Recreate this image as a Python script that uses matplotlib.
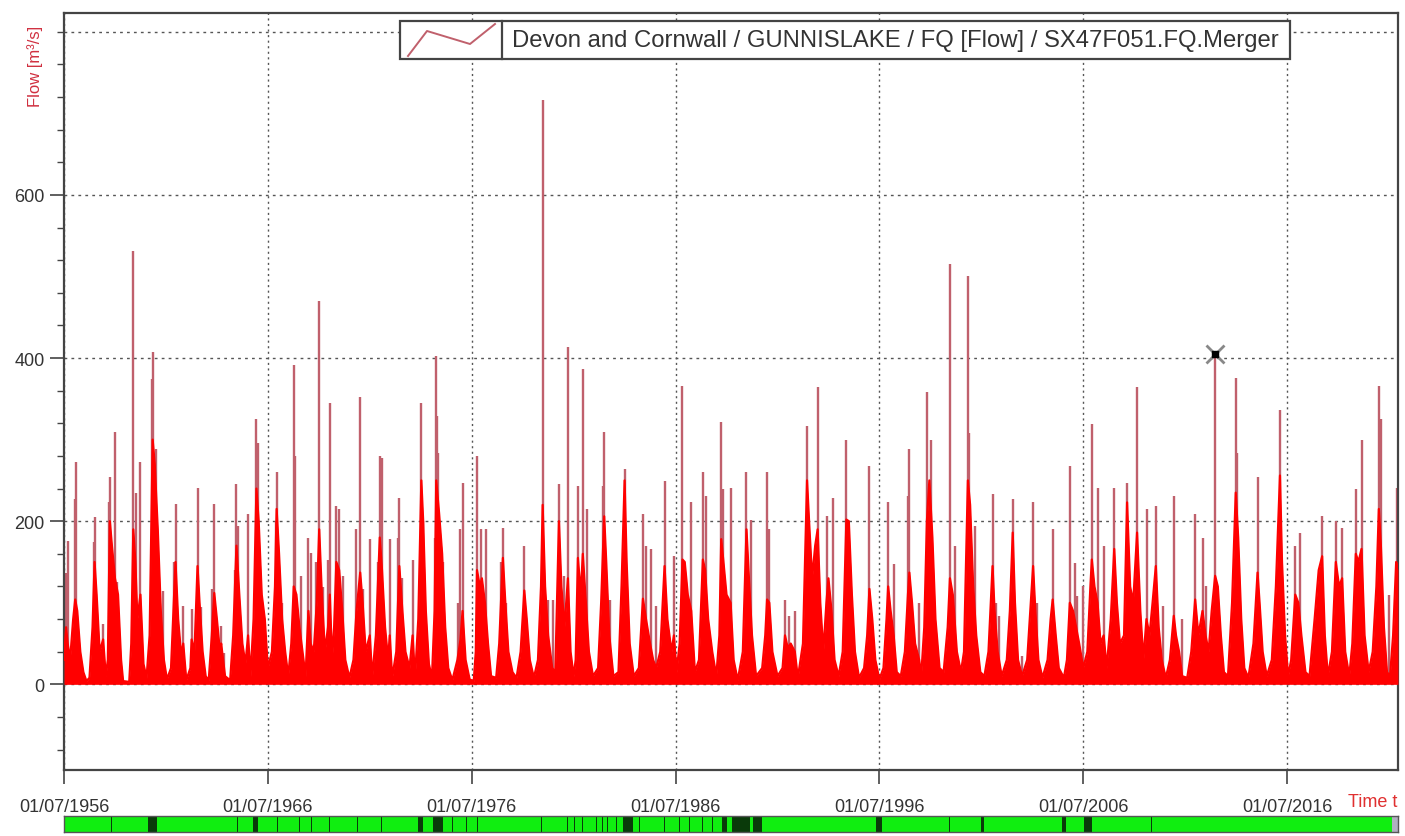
import matplotlib
matplotlib.use("Agg")
import matplotlib.pyplot as plt
from matplotlib.patches import Rectangle
from matplotlib.lines import Line2D

plt.rcParams['font.family'] = ['Liberation Sans', 'DejaVu Sans']

# --- data (decimal years, m3/s) ---
# tall thin peaks
spike_t = [1956.60, 1956.68, 1957.02, 1957.08, 1957.97, 1958.02, 1958.42, 1958.72, 1958.75, 1958.98,
           1959.12, 1959.88, 1960.03, 1960.25, 1960.80, 1960.88, 1961.00, 1961.35, 1961.90, 1961.97,
           1962.33, 1962.76, 1963.05, 1963.24, 1963.75, 1963.87, 1964.21, 1964.33, 1964.90, 1964.96,
           1965.05, 1965.53, 1965.94, 1966.02, 1966.88, 1966.93, 1967.20, 1967.77, 1967.85, 1968.15,
           1968.49, 1968.62, 1968.85, 1969.02, 1969.20, 1969.45, 1969.54, 1969.86, 1970.00, 1970.20,
           1970.84, 1971.03, 1971.15, 1971.50, 1971.88, 1971.99, 1972.10, 1972.48, 1972.90, 1972.95,
           1973.10, 1973.60, 1974.03, 1974.12, 1974.70, 1974.76, 1974.82, 1974.87, 1975.10, 1975.82,
           1975.95, 1976.05, 1976.76, 1976.97, 1977.20, 1977.95, 1978.03, 1978.20, 1979.08, 1979.98,
           1980.25, 1980.50, 1980.78, 1981.05, 1981.22, 1981.71, 1981.95, 1982.15, 1982.92, 1983.00,
           1983.30, 1984.00, 1984.90, 1985.05, 1985.30, 1985.55, 1985.96, 1986.42, 1986.84, 1987.27,
           1987.84, 1988.00, 1988.74, 1988.82, 1989.21, 1989.98, 1990.20, 1990.99, 1991.10, 1991.87,
           1992.07, 1992.35, 1992.95, 1993.47, 1993.95, 1994.20, 1994.88, 1996.01, 1996.93, 1997.20,
           1997.90, 1997.97, 1998.45, 1998.83, 1999.05, 1999.96, 2000.20, 2000.84, 2000.90, 2001.20,
           2002.05, 2002.20, 2002.35, 2003.04, 2003.50, 2004.04, 2004.25, 2005.00, 2005.84, 2006.10,
           2006.20, 2006.50, 2006.92, 2007.20, 2007.50, 2008.02, 2008.65, 2009.14, 2009.62, 2010.06,
           2010.40, 2010.94, 2011.33, 2011.99, 2012.35, 2012.50, 2012.97, 2013.98, 2014.05, 2015.05,
           2016.15, 2016.90, 2017.15, 2018.22, 2018.89, 2019.20, 2019.87, 2020.15, 2021.00, 2021.12,
           2021.50, 2021.88]
spike_v = [137, 176, 227, 272, 174, 205, 74, 223, 254, 309,
           125, 531, 235, 272, 374, 407, 288, 115, 150, 221,
           96, 92, 241, 95, 117, 221, 72, 39, 140, 245,
           194, 209, 325, 296, 200, 260, 100, 392, 280, 133,
           180, 161, 150, 470, 119, 153, 345, 219, 215, 133,
           190, 352, 117, 178, 150, 280, 278, 178, 180, 229,
           130, 153, 345, 200, 180, 403, 329, 284, 150, 100,
           190, 247, 280, 190, 190, 150, 192, 100, 170, 716,
           104, 104, 245, 133, 413, 243, 386, 215, 243, 309,
           104, 264, 209, 170, 166, 96, 249, 157, 366, 223,
           260, 231, 321, 239, 241, 260, 202, 260, 190, 104,
           84, 90, 317, 364, 206, 229, 299, 268, 223, 147,
           231, 288, 100, 358, 299, 515, 170, 500, 308, 194,
           233, 100, 84, 227, 35, 223, 100, 190, 268, 149,
           108, 121, 319, 241, 170, 241, 247, 364, 215, 219,
           96, 231, 80, 209, 180, 121, 405, 376, 284, 254,
           336, 170, 186, 206, 200, 192, 239, 300, 366, 325,
           110, 241]

# dense winter body of the series (upper edge of the solid red)
body_t = [1956.50, 1956.60, 1956.68, 1956.80, 1956.95, 1957.05, 1957.15, 1957.30, 1957.45, 1957.60,
          1957.75, 1957.90, 1958.00, 1958.10, 1958.25, 1958.42, 1958.55, 1958.65, 1958.75, 1958.85,
          1959.00, 1959.15, 1959.30, 1959.40, 1959.70, 1959.80, 1959.90, 1960.00, 1960.10, 1960.25,
          1960.40, 1960.55, 1960.70, 1960.85, 1960.95, 1961.10, 1961.25, 1961.40, 1961.55, 1961.75,
          1961.90, 1961.97, 1962.10, 1962.25, 1962.35, 1962.50, 1962.70, 1962.76, 1962.90, 1963.05,
          1963.15, 1963.30, 1963.45, 1963.60, 1963.75, 1963.87, 1964.00, 1964.15, 1964.21, 1964.40,
          1964.65, 1964.80, 1964.96, 1965.10, 1965.25, 1965.40, 1965.53, 1965.65, 1965.80, 1965.94,
          1966.05, 1966.20, 1966.35, 1966.50, 1966.70, 1966.85, 1966.93, 1967.05, 1967.20, 1967.35,
          1967.50, 1967.65, 1967.77, 1967.90, 1968.05, 1968.20, 1968.35, 1968.49, 1968.60, 1968.75,
          1968.90, 1969.02, 1969.15, 1969.30, 1969.45, 1969.54, 1969.65, 1969.75, 1969.86, 1970.00,
          1970.15, 1970.30, 1970.50, 1970.70, 1970.85, 1971.03, 1971.15, 1971.30, 1971.50, 1971.62,
          1971.80, 1971.99, 1972.10, 1972.25, 1972.40, 1972.48, 1972.60, 1972.80, 1972.95, 1973.10,
          1973.25, 1973.45, 1973.60, 1973.72, 1973.88, 1974.03, 1974.12, 1974.25, 1974.40, 1974.55,
          1974.68, 1974.76, 1974.90, 1975.05, 1975.20, 1975.35, 1975.55, 1975.80, 1975.95, 1976.05,
          1976.20, 1976.40, 1976.60, 1976.70, 1976.76, 1976.90, 1977.00, 1977.15, 1977.30, 1977.45,
          1977.70, 1977.85, 1978.03, 1978.15, 1978.30, 1978.50, 1978.70, 1978.90, 1979.08, 1979.20,
          1979.35, 1979.55, 1979.75, 1979.90, 1979.98, 1980.10, 1980.25, 1980.45, 1980.60, 1980.78,
          1980.90, 1981.05, 1981.22, 1981.35, 1981.50, 1981.60, 1981.71, 1981.85, 1981.95, 1982.10,
          1982.25, 1982.45, 1982.70, 1982.85, 1983.00, 1983.10, 1983.25, 1983.45, 1983.70, 1983.85,
          1984.00, 1984.10, 1984.25, 1984.45, 1984.70, 1984.90, 1985.05, 1985.25, 1985.40, 1985.55,
          1985.75, 1985.96, 1986.10, 1986.30, 1986.42, 1986.55, 1986.70, 1986.84, 1986.95, 1987.10,
          1987.27, 1987.45, 1987.65, 1987.84, 1987.95, 1988.10, 1988.30, 1988.50, 1988.65, 1988.74,
          1988.85, 1989.00, 1989.20, 1989.35, 1989.55, 1989.80, 1989.98, 1990.10, 1990.25, 1990.45,
          1990.75, 1990.90, 1990.99, 1991.10, 1991.25, 1991.50, 1991.75, 1991.87, 1992.00, 1992.15,
          1992.35, 1992.50, 1992.75, 1992.95, 1993.05, 1993.20, 1993.35, 1993.47, 1993.60, 1993.75,
          1993.90, 1994.00, 1994.15, 1994.30, 1994.50, 1994.70, 1994.88, 1995.00, 1995.15, 1995.30,
          1995.50, 1995.75, 1995.90, 1996.01, 1996.15, 1996.30, 1996.50, 1996.70, 1996.85, 1996.93,
          1997.05, 1997.20, 1997.35, 1997.55, 1997.75, 1997.90, 1997.97, 1998.10, 1998.25, 1998.45,
          1998.55, 1998.70, 1998.83, 1998.95, 1999.10, 1999.25, 1999.45, 1999.65, 1999.85, 1999.96,
          2000.10, 2000.30, 2000.50, 2000.65, 2000.84, 2000.95, 2001.10, 2001.25, 2001.45, 2001.65,
          2001.85, 2002.05, 2002.15, 2002.30, 2002.50, 2002.75, 2002.90, 2003.04, 2003.15, 2003.30,
          2003.50, 2003.75, 2003.90, 2004.04, 2004.15, 2004.30, 2004.50, 2004.75, 2004.90, 2005.00,
          2005.15, 2005.30, 2005.55, 2005.70, 2005.84, 2006.00, 2006.15, 2006.30, 2006.50, 2006.70,
          2006.85, 2006.92, 2007.05, 2007.20, 2007.35, 2007.50, 2007.65, 2007.85, 2008.02, 2008.15,
          2008.30, 2008.50, 2008.65, 2008.80, 2008.95, 2009.14, 2009.30, 2009.45, 2009.60, 2009.75,
          2009.90, 2010.06, 2010.20, 2010.35, 2010.55, 2010.75, 2010.94, 2011.05, 2011.20, 2011.35,
          2011.60, 2011.80, 2011.99, 2012.15, 2012.35, 2012.50, 2012.65, 2012.80, 2012.97, 2013.10,
          2013.25, 2013.40, 2013.60, 2013.80, 2013.98, 2014.10, 2014.25, 2014.40, 2014.60, 2014.85,
          2015.05, 2015.15, 2015.30, 2015.50, 2015.75, 2015.95, 2016.15, 2016.25, 2016.40, 2016.55,
          2016.70, 2016.90, 2017.05, 2017.20, 2017.40, 2017.60, 2017.85, 2018.05, 2018.22, 2018.35,
          2018.50, 2018.70, 2018.89, 2019.05, 2019.20, 2019.35, 2019.55, 2019.70, 2019.87, 2020.00,
          2020.15, 2020.30, 2020.50, 2020.70, 2020.88, 2021.00, 2021.10, 2021.25, 2021.40, 2021.55,
          2021.70, 2021.85, 2021.94]
body_v = [30, 70, 50, 30, 80, 104, 90, 40, 15, 4,
          8, 70, 150, 110, 40, 55, 10, 30, 200, 170,
          130, 110, 30, 4, 3, 50, 190, 150, 80, 110,
          25, 8, 60, 300, 270, 190, 90, 30, 6, 20,
          110, 150, 80, 35, 50, 5, 20, 55, 40, 145,
          100, 40, 10, 5, 60, 112, 80, 40, 50, 10,
          5, 60, 170, 110, 50, 25, 60, 10, 80, 240,
          200, 110, 80, 20, 40, 120, 215, 160, 80, 40,
          10, 50, 120, 110, 70, 40, 10, 90, 50, 40,
          100, 190, 110, 40, 70, 110, 30, 70, 150, 140,
          90, 30, 8, 30, 90, 137, 100, 40, 60, 8,
          60, 180, 140, 70, 30, 60, 8, 40, 145, 90,
          40, 20, 60, 8, 80, 250, 200, 90, 25, 8,
          90, 250, 210, 160, 70, 20, 5, 30, 55, 90,
          30, 6, 4, 40, 140, 120, 130, 100, 50, 10,
          8, 50, 155, 100, 40, 15, 8, 40, 115, 80,
          30, 8, 30, 120, 220, 120, 60, 20, 15, 200,
          120, 70, 130, 40, 10, 30, 155, 110, 160, 100,
          40, 10, 20, 100, 206, 150, 60, 10, 15, 120,
          250, 150, 50, 10, 20, 105, 80, 50, 30, 20,
          40, 145, 80, 40, 60, 15, 50, 153, 150, 110,
          90, 15, 30, 153, 140, 80, 40, 10, 60, 178,
          150, 110, 100, 30, 5, 40, 190, 130, 60, 10,
          20, 60, 104, 100, 40, 10, 20, 60, 45, 50,
          40, 8, 50, 250, 200, 130, 170, 190, 100, 40,
          100, 130, 90, 30, 10, 40, 202, 200, 110, 40,
          8, 20, 60, 117, 80, 30, 6, 20, 80, 120,
          90, 60, 15, 10, 40, 110, 137, 100, 50, 30,
          10, 70, 200, 250, 180, 80, 20, 15, 70, 130,
          110, 40, 15, 40, 250, 220, 120, 60, 15, 10,
          40, 145, 90, 40, 10, 30, 90, 186, 100, 30,
          10, 30, 90, 145, 90, 30, 8, 30, 80, 104,
          60, 20, 8, 30, 100, 90, 70, 50, 20, 40,
          120, 153, 120, 100, 50, 60, 20, 80, 166, 100,
          50, 60, 223, 120, 100, 186, 90, 30, 80, 60,
          100, 145, 70, 30, 8, 30, 84, 60, 40, 10,
          8, 40, 104, 60, 90, 60, 40, 90, 133, 120,
          60, 15, 10, 100, 235, 180, 80, 20, 8, 50,
          137, 100, 40, 10, 30, 120, 256, 150, 60, 10,
          30, 110, 100, 60, 15, 10, 80, 140, 157, 60,
          10, 40, 150, 120, 130, 40, 10, 50, 160, 150,
          166, 60, 15, 40, 120, 215, 170, 70, 15, 10,
          60, 150, 140]

# flagged value (cross marker)
mark_t = [2012.97]
mark_v = [405]

tick_years = [1956.5, 1966.5, 1976.5, 1986.5, 1996.5, 2006.5, 2016.5]
tick_labels = ["01/07/1956", "01/07/1966", "01/07/1976", "01/07/1986",
               "01/07/1996", "01/07/2006", "01/07/2016"]

# quality bar: dark marks (start, end) in decimal years
bar_marks = [(1957.12, 1957.16), (1958.83, 1958.87), (1960.01, 1960.05), (1960.60, 1961.06),
             (1963.00, 1963.04), (1965.01, 1965.05), (1965.76, 1966.01), (1966.97, 1967.01),
             (1968.05, 1968.09), (1968.64, 1968.68), (1969.52, 1969.56), (1970.89, 1970.93),
             (1972.07, 1972.11), (1973.85, 1974.10), (1974.59, 1975.08), (1975.55, 1975.59),
             (1976.23, 1976.27), (1976.77, 1976.81), (1979.91, 1979.95), (1981.18, 1981.22),
             (1981.53, 1981.57), (1981.92, 1981.96), (1982.61, 1982.65), (1982.90, 1982.94),
             (1983.15, 1983.19), (1983.59, 1983.63), (1983.90, 1984.39), (1984.72, 1984.76),
             (1985.94, 1985.98), (1986.68, 1986.72), (1987.17, 1987.21), (1987.80, 1987.84),
             (1988.29, 1988.33), (1988.80, 1989.00), (1989.25, 1990.13), (1990.28, 1990.72),
             (1996.35, 1996.65), (1999.91, 1999.95), (2001.50, 2001.65), (2005.47, 2005.67),
             (2006.55, 2006.94), (2009.81, 2009.85), (2013.73, 2013.77)]

# --- figure ---
fig = plt.figure(figsize=(14.05, 8.37), dpi=100)
ax = fig.add_axes([64 / 1405, 1 - 771 / 837, 1334 / 1405, 757 / 837])

x0, x1 = 1956.5, 2021.94
ax.set_xlim(x0, x1)
ax.set_ylim(-105, 823)

spike_col = '#c0606c'
red = '#ff0000'
ax.vlines(spike_t, 0, spike_v, colors=spike_col, lw=1.7, zorder=2)
ax.fill_between(body_t, 0, body_v, color=red, lw=0, zorder=3)
ax.plot(body_t, body_v, color=red, lw=1.6, zorder=3)
ax.plot(mark_t, mark_v, marker='x', ms=13, mew=2, color='#888888', ls='none', zorder=5)
ax.plot(mark_t, mark_v, marker='s', ms=5, color='black', ls='none', zorder=6)

# grid
for yv in [0, 200, 400, 600, 800]:
    ax.axhline(yv, color='#555555', lw=1, ls=(0, (2, 3)), zorder=1)
for xv in tick_years:
    ax.axvline(xv, color='#555555', lw=1, ls=(0, (1.5, 2.5)), zorder=1)

# axes styling
for s in ax.spines.values():
    s.set_color('#444444')
    s.set_linewidth(1.6)
ax.set_yticks([0, 200, 400, 600])
ax.set_yticklabels(["0", "200", "400", "600"], fontsize=13, color='#333333')
ax.set_yticks(range(-80, 801, 40), minor=True)
ax.tick_params(axis='y', which='major', length=10, width=1.2, color='#444444', pad=4)
ax.tick_params(axis='y', which='minor', length=5, width=1.0, color='#444444')
ax.set_xticks(tick_years)
ax.set_xticklabels(tick_labels, fontsize=13, color='#333333')
ax.tick_params(axis='x', which='major', length=10, width=1.2, color='#444444', pad=10)

fig.text(35 / 1405, 1 - 26 / 837, "Flow [m\u00b3/s]", rotation=90, color='#d03040',
         fontsize=12, ha='center', va='top')
fig.text(1397 / 1405, 1 - 803 / 837, "Time t", color='#e03030', fontsize=13,
         ha='right', va='center')

# legend box
def axf(px, py):
    return (px - 64) / 1334, (771 - py) / 757

lx0, ly0 = axf(400, 60)
lx1, ly1 = axf(1290, 22)
ax.add_patch(Rectangle((lx0, ly0), lx1 - lx0, ly1 - ly0, transform=ax.transAxes,
                       facecolor='white', edgecolor='#444444', lw=1.6, zorder=10))
sx, _ = axf(502, 0)
ax.add_line(Line2D([sx, sx], [ly0, ly1], transform=ax.transAxes, color='#444444', lw=1.6, zorder=11))
zig = [axf(408, 57), axf(427, 32), axf(470, 45), axf(495, 25)]
ax.add_line(Line2D([p[0] for p in zig], [p[1] for p in zig], transform=ax.transAxes,
                   color=spike_col, lw=1.4, zorder=11))
tx, ty = axf(512, 41)
ax.text(tx, ty, "Devon and Cornwall / GUNNISLAKE / FQ [Flow] / SX47F051.FQ.Merger",
        transform=ax.transAxes, fontsize=17.2, color='#333333', va='center', ha='left', zorder=12)

# quality bar under the axis
bax = fig.add_axes([64 / 1405, 1 - 833 / 837, 1334 / 1405, 16 / 837])
bax.set_xlim(x0, x1)
bax.set_ylim(0, 1)
bax.axvspan(x0, 2021.66, color='#10ee10', lw=0)
bax.axvspan(2021.66, x1, color='#b0b0c0', lw=0)
for a, b in bar_marks:
    bax.axvspan(a, b, color='#0a3a0a', lw=0)
bax.set_xticks([])
bax.set_yticks([])
for s in bax.spines.values():
    s.set_color('#555555')
    s.set_linewidth(1)

fig.savefig("out.png", dpi=100, facecolor='white')
